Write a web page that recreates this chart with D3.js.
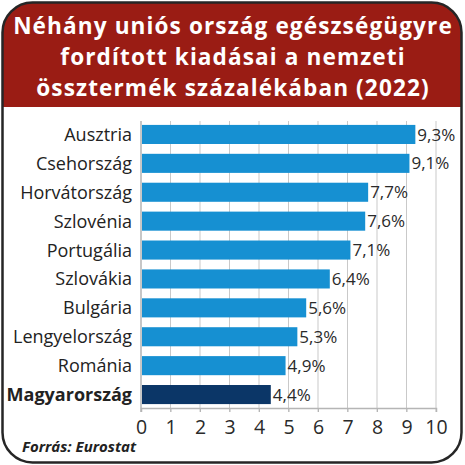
<!DOCTYPE html>
<html>
<head>
<meta charset="utf-8">
<script src="https://cdn.jsdelivr.net/npm/d3@7"></script>
<style>
  body { margin: 0; background: #fff; }
  text { font-family: "Open Sans", Lato, sans-serif; }
</style>
</head>
<body>
<script>
var countries = ["Ausztria", "Csehország", "Horvátország", "Szlovénia", "Portugália",
                 "Szlovákia", "Bulgária", "Lengyelország", "Románia", "Magyarország"];
var values = [9.3, 9.1, 7.7, 7.6, 7.1, 6.4, 5.6, 5.3, 4.9, 4.4];
var valueLabels = ["9,3%", "9,1%", "7,7%", "7,6%", "7,1%", "6,4%", "5,6%", "5,3%", "4,9%", "4,4%"];
var xTicks = [0, 1, 2, 3, 4, 5, 6, 7, 8, 9, 10];
var titleLines = ["Néhány uniós ország egészségügyre", "fordított kiadásai a nemzeti", "össztermék százalékában (2022)"];
var highlight = "Magyarország";
var source = "Forrás: Eurostat";

var W = 465, H = 465;
var svg = d3.select("body").append("svg").attr("width", W).attr("height", H);

// frame + header
var clip = svg.append("clipPath").attr("id", "frame")
clip.append("rect").attr("x", 2.5).attr("y", 2.5).attr("width", 459).attr("height", 460).attr("rx", 30);

svg.append("rect").attr("x", 2.5).attr("y", 2.5).attr("width", 459).attr("height", 460).attr("rx", 30)
    .attr("fill", "#fff");
svg.append("rect").attr("x", 0).attr("y", 0).attr("width", W).attr("height", 107)
    .attr("fill", "#9a1c14").attr("clip-path", "url(#frame)");
svg.append("rect").attr("x", 2.5).attr("y", 2.5).attr("width", 459).attr("height", 460).attr("rx", 30)
    .attr("fill", "none").attr("stroke", "#262626").attr("stroke-width", 2.5);

svg.append("g").selectAll("text").data(titleLines).enter().append("text")
    .attr("x", 233).attr("y", (d, i) => 34 + i * 31)
    .attr("text-anchor", "middle")
    .attr("fill", "#fff").attr("font-weight", 700).attr("font-size", 22.6)
    .attr("letter-spacing", 1.1)
    .text(d => d);

var xScale = d3.scaleLinear().domain([0, 10]).range([141, 436]);
var yScale = d3.scaleBand().domain(countries).range([120, 409]).paddingInner(0.34).paddingOuter(0.17);

var g = svg.append("g");

// grid
g.selectAll(".grid").data(xTicks.slice(1)).enter().append("line")
    .attr("x1", d => xScale(d)).attr("x2", d => xScale(d))
    .attr("y1", 121).attr("y2", 412)
    .attr("stroke", "#c9c9c9").attr("stroke-width", 1);

var xAxis = d3.axisBottom(xScale).tickValues(xTicks).tickSize(4).tickPadding(5);
var ax = g.append("g").attr("transform", "translate(0,408)").call(xAxis);
ax.select(".domain").attr("stroke", "#b5b5b5").attr("stroke-width", 1.5);
ax.selectAll(".tick line").attr("stroke", "#b5b5b5");
ax.selectAll(".tick text").attr("font-family", "'Open Sans', sans-serif").attr("font-size", 19.5)
    .attr("fill", "#2a2a2a").attr("dy", "0.85em");

g.append("line").attr("x1", 141).attr("x2", 141).attr("y1", 121).attr("y2", 412)
    .attr("stroke", "#b5b5b5").attr("stroke-width", 1.5);

// bars
g.selectAll(".bar").data(countries).enter().append("rect")
    .attr("x", xScale(0) + 1)
    .attr("y", d => yScale(d))
    .attr("height", yScale.bandwidth())
    .attr("width", (d, i) => xScale(values[i]) - xScale(0) - 1)
    .attr("fill", d => d === highlight ? "#0b3667" : "#1690d2");

g.selectAll(".val").data(countries).enter().append("text")
    .attr("x", (d, i) => xScale(values[i]) + 2)
    .attr("y", d => yScale(d) + yScale.bandwidth() / 2)
    .attr("dy", "0.36em")
    .attr("font-size", 17).attr("fill", "#2a2a2a")
    .text((d, i) => valueLabels[i]);

g.selectAll(".cat").data(countries).enter().append("text")
    .attr("x", 132)
    .attr("y", d => yScale(d) + yScale.bandwidth() / 2)
    .attr("dy", "0.36em")
    .attr("text-anchor", "end")
    .attr("font-size", 18).attr("fill", "#222")
    .attr("font-weight", d => d === highlight ? 700 : 400)
    .text(d => d);

svg.append("text").attr("x", 22).attr("y", 452)
    .attr("font-size", 15).attr("font-weight", 700).attr("font-style", "italic")
    .attr("fill", "#222")
    .text(source);
</script>
</body>
</html>
